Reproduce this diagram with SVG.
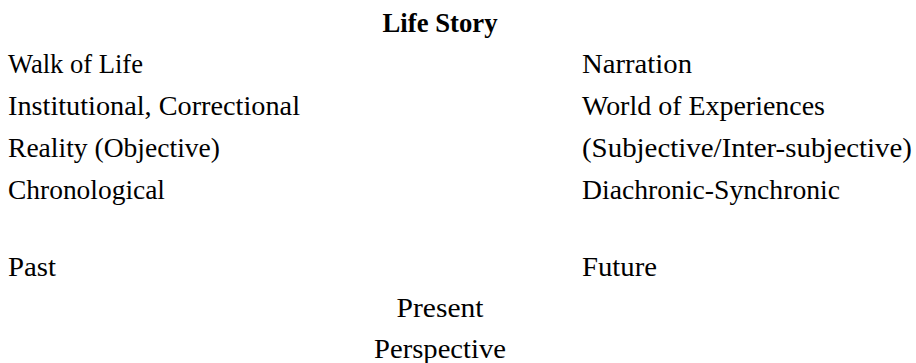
<svg xmlns="http://www.w3.org/2000/svg" width="916" height="363" viewBox="0 0 916 363">
<style>
text{font-family:"Liberation Serif","DejaVu Serif",serif;font-size:27px;fill:#000}
.t{font-weight:bold}
.c{text-anchor:middle}
</style>
<rect width="916" height="363" fill="#fff"/>
<g id="title"><text class="t c" x="440" y="32" textLength="115" lengthAdjust="spacingAndGlyphs">Life Story</text></g>
<g id="left">
<text x="8" y="73" textLength="135" lengthAdjust="spacingAndGlyphs">Walk of Life</text>
<text x="8" y="115" textLength="292" lengthAdjust="spacingAndGlyphs">Institutional, Correctional</text>
<text x="8" y="157" textLength="212" lengthAdjust="spacingAndGlyphs">Reality (Objective)</text>
<text x="8" y="199" textLength="157" lengthAdjust="spacingAndGlyphs">Chronological</text>
</g>
<g id="right">
<text x="582" y="73" textLength="110" lengthAdjust="spacingAndGlyphs">Narration</text>
<text x="582" y="115" textLength="243" lengthAdjust="spacingAndGlyphs">World of Experiences</text>
<text x="582" y="157" textLength="330" lengthAdjust="spacingAndGlyphs">(Subjective/Inter-subjective)</text>
<text x="582" y="199" textLength="258" lengthAdjust="spacingAndGlyphs">Diachronic-Synchronic</text>
</g>
<g id="past"><text x="8" y="276" textLength="48" lengthAdjust="spacingAndGlyphs">Past</text></g>
<g id="future"><text x="582" y="276" textLength="75" lengthAdjust="spacingAndGlyphs">Future</text></g>
<g id="present">
<text class="c" x="440" y="317" textLength="87" lengthAdjust="spacingAndGlyphs">Present</text>
<text class="c" x="440" y="358" textLength="132" lengthAdjust="spacingAndGlyphs">Perspective</text>
</g>
<g id="connectors"/>
</svg>
